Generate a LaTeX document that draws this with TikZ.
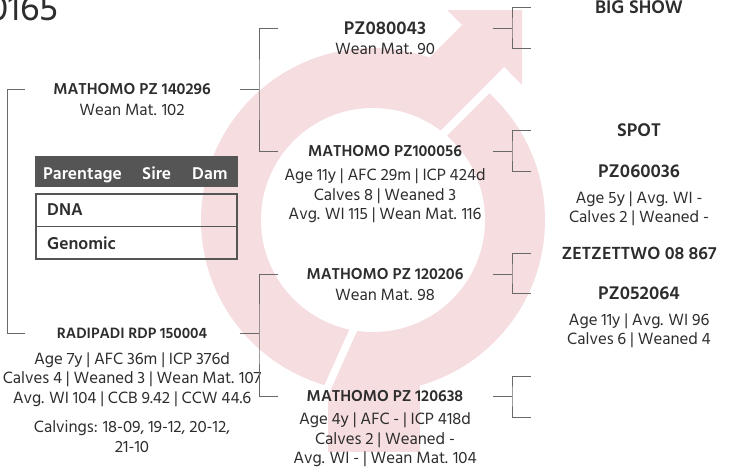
\documentclass[tikz,border=0pt]{standalone}
\usepackage{fontspec}
\setmainfont{Hind Siliguri}
\usetikzlibrary{calc,positioning,backgrounds}
\definecolor{symbolpink}{RGB}{246,221,224}
\definecolor{pedtext}{RGB}{45,45,45}
\definecolor{pedline}{RGB}{105,105,105}
\definecolor{tablegrey}{RGB}{85,85,85}
\def\infoGap{9.4pt}
\def\statGap{11.4pt}
\def\farGap{13.5pt}

\tikzset{
  title/.style={inner sep=0pt, text=pedtext, font=\fontsize{16.2}{18}\selectfont\bfseries},
  bigtitle/.style={title, font=\fontsize{18.8}{20}\selectfont\bfseries},
  info/.style={inner sep=0pt, align=center, text=pedtext, font=\fontsize{16.8}{19.8}\selectfont},
  conn/.style={draw=pedline, line width=0.9pt},
  headtext/.style={inner sep=0pt, anchor=base west, text=white, font=\fontsize{17.5}{18}\selectfont\bfseries},
  rowtext/.style={inner sep=0pt, anchor=west, text=pedtext, font=\fontsize{17.5}{18}\selectfont\bfseries},
}

\begin{document}
\begin{tikzpicture}[x=1pt,y=-1pt]
  \useasboundingbox (0,0) rectangle (731,472);

  % symbol behind the pedigree
  \fill[symbolpink] (373,220) circle[radius=172pt];
  \fill[symbolpink] (462,25) -- (507,70) -- (427,150) -- (382,105) -- cycle;
  \fill[symbolpink] (522,10) -- (447,10) -- (462,25) -- (507,70) -- (522,85) -- cycle;
  \fill[symbolpink] (328,300) rectangle (420,452);
  \fill[white] (373,220) circle[radius=112pt];
  \draw[white, line width=8pt] (507,70) -- (440,137);
  \draw[white, line width=7.5pt] (321,402) -- (356,324);

  \node[anchor=base east, inner sep=0pt, text=pedtext, font=\fontsize{37}{38}\selectfont] (tag) at (59,20) {0165};

  % columns
  \coordinate (colZjoin) at (7,0);
  \coordinate (colAin) at (25,0);
  \coordinate (colAout) at (240,0);
  \coordinate (colAjoin) at (259,0);
  \coordinate (colBin) at (278,0);
  \coordinate (colBout) at (493,0);
  \coordinate (colBjoin) at (512,0);
  \coordinate (colCin) at (531,0);

  % parents
  \node[title] (s) at (132,89) {MATHOMO PZ 140296};
  \node[info, below=\infoGap of s] (s-i) {Wean Mat. 102};
  \node[title, font=\fontsize{15.4}{18}\selectfont\bfseries] (d) at (132,333) {RADIPADI RDP 150004};
  \node[info, below=\farGap of d] (d-i) {Age 7y | AFC 36m | ICP 376d\\Calves 4 | Weaned 3 | Wean Mat. 107\\Avg. WI 104 | CCB 9.42 | CCW 44.6};
  \node[info, below=13.5pt of d-i] (d-c) {Calvings: 18-09, 19-12, 20-12,\\21-10};

  % grandparents
  \node[bigtitle] (ss) at (385,28) {PZ080043};
  \node[info, below=8.5pt of ss] (ss-i) {Wean Mat. 90};
  \node[title] (sd) at (385,151) {MATHOMO PZ100056};
  \node[info, below=\statGap of sd] (sd-i) {Age 11y | AFC 29m | ICP 424d\\Calves 8 | Weaned 3\\Avg. WI 115 | Wean Mat. 116};
  \node[title] (ds) at (385,274) {MATHOMO PZ 120206};
  \node[info, below=\infoGap of ds] (ds-i) {Wean Mat. 98};
  \node[title] (dd) at (385,396) {MATHOMO PZ 120638};
  \node[info, below=10.4pt of dd] (dd-i) {Age 4y | AFC - | ICP 418d\\Calves 2 | Weaned -\\Avg. WI - | Wean Mat. 104};

  % great-grandparents
  \node[bigtitle] (sss) at (639,7) {BIG SHOW};
  \coordinate (ssd) at (639,48);
  \node[bigtitle] (sds) at (639,130) {SPOT};
  \node[bigtitle] (sdd) at (639,171) {PZ060036};
  \node[info, below=\farGap of sdd] (sdd-i) {Age 5y | Avg. WI -\\Calves 2 | Weaned -};
  \node[bigtitle, font=\fontsize{18}{20}\selectfont\bfseries] (dss) at (639,253) {ZETZETTWO 08 867};
  \node[bigtitle] (dsd) at (639,293) {PZ052064};
  \node[info, below=\farGap of dsd] (dsd-i) {Age 11y | Avg. WI 96\\Calves 6 | Weaned 4};
  \coordinate (dds) at (639,376);
  \coordinate (ddd) at (639,417);

  % brackets
  \draw[conn] (s -| colAin) -| (s -| colZjoin) |- (d -| colAin);
  \draw[conn] (s -| colAout) -- (s -| colAjoin);
  \draw[conn] (ss -| colBin) -| (s -| colAjoin) |- (sd -| colBin);
  \draw[conn] (d -| colAout) -- (d -| colAjoin);
  \draw[conn] (ds -| colBin) -| (d -| colAjoin) |- (dd -| colBin);
  \draw[conn] (ss -| colBout) -- (ss -| colBjoin);
  \draw[conn] (sss -| colCin) -| (ss -| colBjoin) |- (ssd -| colCin);
  \draw[conn] (sd -| colBout) -- (sd -| colBjoin);
  \draw[conn] (sds -| colCin) -| (sd -| colBjoin) |- (sdd -| colCin);
  \draw[conn] (ds -| colBout) -- (ds -| colBjoin);
  \draw[conn] (dss -| colCin) -| (ds -| colBjoin) |- (dsd -| colCin);
  \draw[conn] (dd -| colBout) -- (dd -| colBjoin);
  \draw[conn] (dds -| colCin) -| (dd -| colBjoin) |- (ddd -| colCin);

  % parentage table
  \node[fill=tablegrey, inner sep=0pt, minimum width=203pt, minimum height=31pt, anchor=north west] (thead) at (35,156) {};
  \node[headtext] (tparent) at (43,179) {Parentage};
  \node[headtext] (tsire) at (142,179) {Sire};
  \node[headtext] (tdam) at (192,179) {Dam};
  \draw[draw=tablegrey, line width=2.2pt] (36,194) rectangle (237,259);
  \draw[draw=tablegrey, line width=0.8pt] (36,226) -- (237,226);
  \node[rowtext] (tdna) at (47,210) {DNA};
  \node[rowtext] (tgenomic) at (47,243) {Genomic};
\end{tikzpicture}
\end{document}
